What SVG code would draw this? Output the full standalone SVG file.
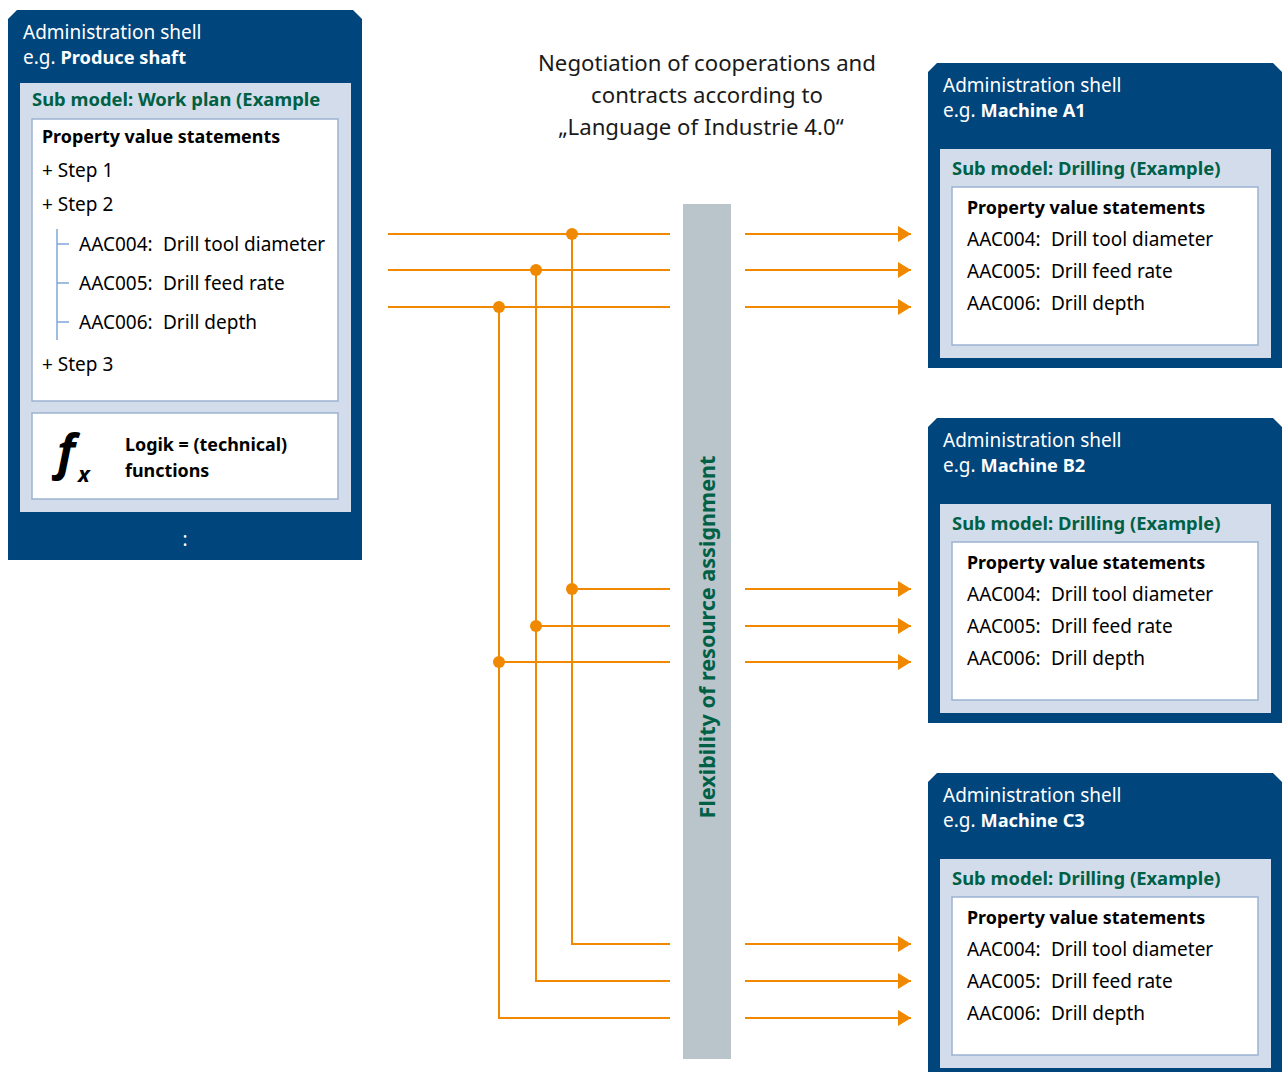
<svg xmlns="http://www.w3.org/2000/svg" width="1282" height="1072" viewBox="0 0 1282 1072">
<defs>
<style>
text{font-family:"Noto Sans","Open Sans",sans-serif;}
.shell{fill:#00457c;}
.panel{fill:#d3dcea;}
.box{fill:#ffffff;stroke:#9cb2d2;stroke-width:1.5;}
.hw{fill:#ffffff;font-size:19px;}
.hb{font-weight:bold;font-size:18.2px;}
.sub{fill:#006045;font-size:18.4px;font-weight:bold;}
.pvs{fill:#000;font-size:17.9px;font-weight:bold;}
.t{fill:#000;font-size:19px;}
.o{fill:none;stroke:#f08800;stroke-width:2;}
.dot{fill:#f08800;}
.tree{fill:none;stroke:#7fa8d6;stroke-width:1.5;}
</style>
<marker id="ah" markerUnits="userSpaceOnUse" markerWidth="14" markerHeight="18" refX="13" refY="8" orient="auto">
<path d="M0,0 L13,8 L0,16 Z" fill="#f08800"/>
</marker>
</defs>
<rect width="1282" height="1072" fill="#ffffff"/>

<g id="title">
<text x="707" y="71" text-anchor="middle" style="font-size:22.2px;fill:#1a1a1a">Negotiation of cooperations and</text>
<text x="707" y="103" text-anchor="middle" style="font-size:22.2px;fill:#1a1a1a">contracts according to</text>
<text x="701" y="135" text-anchor="middle" style="font-size:22.2px;fill:#1a1a1a">„Language of Industrie 4.0“</text>
</g>

<g id="bar">
<rect x="683" y="204" width="48" height="855" fill="#b9c4cb"/>
<text transform="translate(715,637) rotate(-90)" text-anchor="middle" style="font-size:21.6px;font-weight:bold;fill:#006045">Flexibility of resource assignment</text>
</g>

<g id="shell-produce">
<path class="shell" d="M8,19 L17,10 L353,10 L362,19 L362,560 L8,560 Z"/>
<text x="23" y="38.5" class="hw">Administration shell</text>
<text x="23" y="63.5" class="hw">e.g. <tspan class="hb">Produce shaft</tspan></text>
<rect class="panel" x="20" y="83" width="331" height="429"/>
<text x="32" y="106" class="sub">Sub model: Work plan (Example</text>
<rect class="box" x="32" y="119" width="306" height="282"/>
<text x="42" y="143" class="pvs">Property value statements</text>
<text x="42" y="177" class="t">+ Step 1</text>
<text x="42" y="211" class="t">+ Step 2</text>
<path class="tree" d="M57,229 V340 M57,244 H69 M57,283 H69 M57,322 H69"/>
<text x="79" y="251" class="t">AAC004:<tspan x="163">Drill tool diameter</tspan></text>
<text x="79" y="290" class="t">AAC005:<tspan x="163">Drill feed rate</tspan></text>
<text x="79" y="329" class="t">AAC006:<tspan x="163">Drill depth</tspan></text>
<text x="42" y="371" class="t">+ Step 3</text>
<rect class="box" x="32" y="413" width="306" height="86"/>
<text x="57" y="469" style="font-size:48px;font-weight:bold;font-style:italic;fill:#000">f</text>
<text x="78" y="482" style="font-size:22px;font-weight:bold;font-style:italic;fill:#000">x</text>
<text x="125" y="451" class="pvs">Logik = (technical)</text>
<text x="125" y="477" class="pvs">functions</text>
<text x="185" y="546" text-anchor="middle" class="hw">:</text>
</g>

<g id="shell-a1">
<path class="shell" d="M928,72 L937,63 L1273,63 L1282,72 L1282,368 L928,368 Z"/>
<text x="943" y="92" class="hw">Administration shell</text>
<text x="943" y="117" class="hw">e.g. <tspan class="hb">Machine A1</tspan></text>
<rect class="panel" x="940" y="149" width="331" height="209"/>
<text x="952" y="175" class="sub">Sub model: Drilling (Example)</text>
<rect class="box" x="952" y="187" width="306" height="158"/>
<text x="967" y="214" class="pvs">Property value statements</text>
<text x="967" y="246" class="t">AAC004:<tspan x="1051">Drill tool diameter</tspan></text>
<text x="967" y="278" class="t">AAC005:<tspan x="1051">Drill feed rate</tspan></text>
<text x="967" y="310" class="t">AAC006:<tspan x="1051">Drill depth</tspan></text>
</g>

<g id="shell-b2" transform="translate(0,355)">
<path class="shell" d="M928,72 L937,63 L1273,63 L1282,72 L1282,368 L928,368 Z"/>
<text x="943" y="92" class="hw">Administration shell</text>
<text x="943" y="117" class="hw">e.g. <tspan class="hb">Machine B2</tspan></text>
<rect class="panel" x="940" y="149" width="331" height="209"/>
<text x="952" y="175" class="sub">Sub model: Drilling (Example)</text>
<rect class="box" x="952" y="187" width="306" height="158"/>
<text x="967" y="214" class="pvs">Property value statements</text>
<text x="967" y="246" class="t">AAC004:<tspan x="1051">Drill tool diameter</tspan></text>
<text x="967" y="278" class="t">AAC005:<tspan x="1051">Drill feed rate</tspan></text>
<text x="967" y="310" class="t">AAC006:<tspan x="1051">Drill depth</tspan></text>
</g>

<g id="shell-c3" transform="translate(0,710)">
<path class="shell" d="M928,72 L937,63 L1273,63 L1282,72 L1282,368 L928,368 Z"/>
<text x="943" y="92" class="hw">Administration shell</text>
<text x="943" y="117" class="hw">e.g. <tspan class="hb">Machine C3</tspan></text>
<rect class="panel" x="940" y="149" width="331" height="209"/>
<text x="952" y="175" class="sub">Sub model: Drilling (Example)</text>
<rect class="box" x="952" y="187" width="306" height="158"/>
<text x="967" y="214" class="pvs">Property value statements</text>
<text x="967" y="246" class="t">AAC004:<tspan x="1051">Drill tool diameter</tspan></text>
<text x="967" y="278" class="t">AAC005:<tspan x="1051">Drill feed rate</tspan></text>
<text x="967" y="310" class="t">AAC006:<tspan x="1051">Drill depth</tspan></text>
</g>

<g id="connectors">
<path class="o" d="M388,234 H670 M388,270 H670 M388,307 H670"/>
<path class="o" d="M572,234 V944 H670 M536,270 V981 H670 M499,307 V1018 H670"/>
<path class="o" d="M572,589 H670 M536,626 H670 M499,662 H670"/>
<circle class="dot" cx="572" cy="234" r="6"/>
<circle class="dot" cx="536" cy="270" r="6"/>
<circle class="dot" cx="499" cy="307" r="6"/>
<circle class="dot" cx="572" cy="589" r="6"/>
<circle class="dot" cx="536" cy="626" r="6"/>
<circle class="dot" cx="499" cy="662" r="6"/>
<path class="o" marker-end="url(#ah)" d="M745,234 H911"/>
<path class="o" marker-end="url(#ah)" d="M745,270 H911"/>
<path class="o" marker-end="url(#ah)" d="M745,307 H911"/>
<path class="o" marker-end="url(#ah)" d="M745,589 H911"/>
<path class="o" marker-end="url(#ah)" d="M745,626 H911"/>
<path class="o" marker-end="url(#ah)" d="M745,662 H911"/>
<path class="o" marker-end="url(#ah)" d="M745,944 H911"/>
<path class="o" marker-end="url(#ah)" d="M745,981 H911"/>
<path class="o" marker-end="url(#ah)" d="M745,1018 H911"/>
</g>
</svg>
